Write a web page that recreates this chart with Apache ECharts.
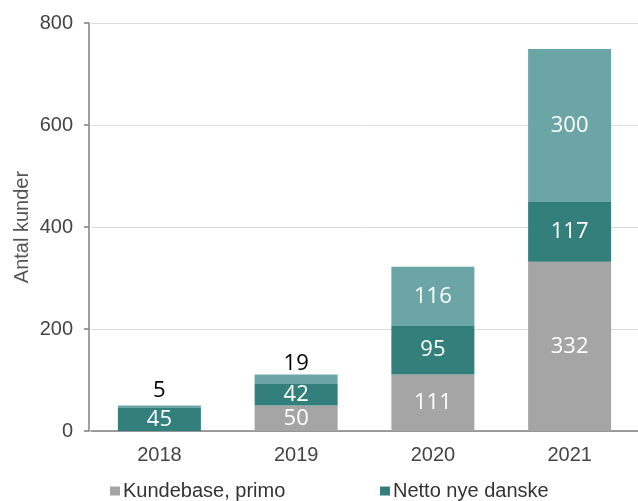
<!DOCTYPE html>
<html>
<head>
<meta charset="utf-8">
<script src="https://cdn.jsdelivr.net/npm/echarts@6/dist/echarts.min.js"></script>
<style>
  html, body { margin: 0; padding: 0; background: #fff; }
  #chart { width: 638px; height: 501px; }
</style>
</head>
<body>
<div id="chart"></div>
<script>
const years = ['2018', '2019', '2020', '2021'];
const kundebase = [0, 50, 111, 332];
const nettoDanske = [45, 42, 95, 117];
const nettoOevrige = [5, 19, 116, 300];
const yTicks = [0, 200, 400, 600, 800];

const chart = echarts.init(document.getElementById('chart'));

const insideLabel = {
  show: true,
  position: 'inside',
  color: '#fff',
  fontFamily: 'Open Sans',
  fontSize: 22
};

// small values sit above the bar in black
const topLabel = dist => ({
  position: 'top',
  color: '#000',
  distance: dist
});

const legendText = { fontFamily: 'Liberation Sans', fontSize: 20, color: '#333', padding: [0, 0, 6, -2] };

chart.setOption({
  backgroundColor: '#fff',
  animation: false,
  grid: { left: 91, top: 23, bottom: 70, width: 557 },
  legend: [{
    left: 105,
    top: 476,
    itemWidth: 10,
    itemHeight: 9,
    icon: 'rect',
    textStyle: legendText,
    data: ['Kundebase, primo']
  }, {
    left: 375,
    top: 476,
    itemWidth: 10,
    itemHeight: 9,
    icon: 'rect',
    textStyle: legendText,
    data: ['Netto nye danske']
  }],
  xAxis: {
    type: 'category',
    data: years,
    axisTick: { show: false },
    axisLine: { lineStyle: { color: '#808080', width: 1.5 } },
    axisLabel: { fontFamily: 'Liberation Sans', fontSize: 20, color: '#444', margin: 14 }
  },
  yAxis: {
    type: 'value',
    offset: 2,
    min: yTicks[0],
    max: yTicks[yTicks.length - 1],
    interval: 200,
    name: 'Antal kunder',
    nameLocation: 'middle',
    nameRotate: 90,
    nameGap: 57,
    nameMoveOverlap: false,
    nameTextStyle: { fontFamily: 'Liberation Sans', fontSize: 20, color: '#555' },
    axisLine: { show: true, lineStyle: { color: '#808080', width: 1.5 } },
    axisTick: { show: true, length: 5, lineStyle: { color: '#808080', width: 1.5 } },
    axisLabel: { fontFamily: 'Liberation Sans', fontSize: 20, color: '#444', margin: 16 },
    splitLine: { lineStyle: { color: '#dcdcdc', width: 1 } }
  },
  series: [{
    name: 'Kundebase, primo',
    type: 'bar',
    stack: 'total',
    barWidth: 83,
    itemStyle: { color: '#a5a5a5' },
    label: Object.assign({}, insideLabel, {
      formatter: p => (p.value ? p.value : '')
    }),
    data: kundebase
  }, {
    name: 'Netto nye danske',
    type: 'bar',
    stack: 'total',
    itemStyle: { color: '#327f7c' },
    label: insideLabel,
    data: nettoDanske
  }, {
    name: 'Netto nye udenlandske',
    type: 'bar',
    stack: 'total',
    itemStyle: { color: '#6ba5a5' },
    label: insideLabel,
    data: nettoOevrige.map((v, i) => {
      if (i === 0) return { value: v, label: topLabel(4) };
      if (i === 1) return { value: v, label: topLabel(0) };
      return v;
    })
  }]
});
</script>
</body>
</html>
